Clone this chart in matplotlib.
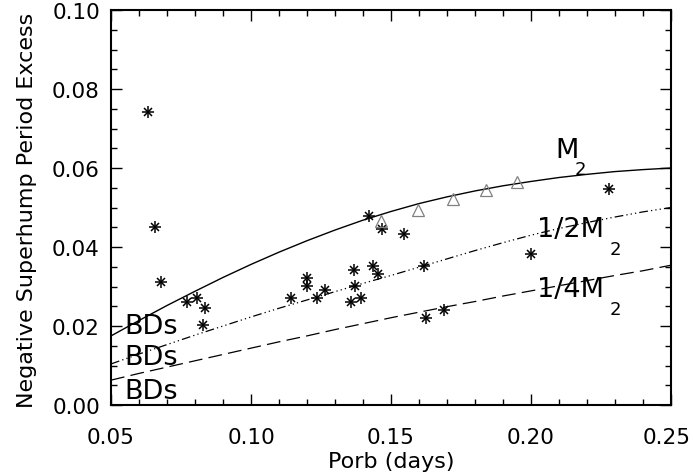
#!/usr/bin/env python3

import matplotlib
matplotlib.use("Agg")
import matplotlib.pyplot as plt
from matplotlib.ticker import MultipleLocator, FormatStrFormatter, NullFormatter
from matplotlib.transforms import offset_copy

# observed systems (asterisks)
star_porb = [0.0631, 0.0657, 0.0679, 0.0770, 0.0806, 0.0836, 0.0827, 0.1141,
             0.1199, 0.1199, 0.1234, 0.1264, 0.1357, 0.1368, 0.1371, 0.1393,
             0.1422, 0.1434, 0.1455, 0.1469, 0.1547, 0.1619, 0.1624, 0.1690,
             0.1999, 0.2279]
star_eps = [0.0742, 0.0451, 0.0311, 0.0261, 0.0272, 0.0246, 0.0202, 0.0272,
            0.0322, 0.0301, 0.0272, 0.0292, 0.0261, 0.0341, 0.0301, 0.0272,
            0.0478, 0.0353, 0.0331, 0.0446, 0.0434, 0.0351, 0.0221, 0.0241,
            0.0383, 0.0548]

# triangles
tri_porb = [0.1463, 0.1595, 0.1720, 0.1838, 0.1951]
tri_eps = [0.0467, 0.0494, 0.0521, 0.0544, 0.0564]

# model curves
curve_porb = [0.05, 0.06, 0.07, 0.08, 0.09, 0.10, 0.11, 0.12, 0.13, 0.14, 0.15,
              0.16, 0.17, 0.18, 0.19, 0.20, 0.21, 0.22, 0.23, 0.24, 0.25]
eps_m2 = [0.0175, 0.0214, 0.0252, 0.0288, 0.0323, 0.0356, 0.0387, 0.0416,
          0.0443, 0.0468, 0.0490, 0.0510, 0.0527, 0.0542, 0.0555, 0.0566,
          0.0576, 0.0584, 0.0591, 0.0596, 0.0600]
eps_half = [0.0104, 0.0129, 0.0153, 0.0177, 0.0200, 0.0223, 0.0245, 0.0266,
            0.0287, 0.0308, 0.0328, 0.0349, 0.0370, 0.0391, 0.0411, 0.0430,
            0.0447, 0.0462, 0.0476, 0.0489, 0.0500]
eps_quarter = [0.0063, 0.0080, 0.0096, 0.0112, 0.0128, 0.0144, 0.0160, 0.0175,
               0.0191, 0.0206, 0.0221, 0.0235, 0.0249, 0.0262, 0.0276, 0.0289,
               0.0302, 0.0315, 0.0328, 0.0340, 0.0354]

xticks = [0.05, 0.10, 0.15, 0.20, 0.25]
xtick_labels = ['0.05', '0.10', '0.15', '0.20', '0.25']

plt.rcParams['font.family'] = 'DejaVu Sans'

fig = plt.figure(figsize=(6.93, 4.77), dpi=100)
ax = fig.add_axes([0.1602, 0.1488, 0.8081, 0.8281])

ax.plot(curve_porb, eps_m2, color='black', lw=1.0)
ax.plot(curve_porb, eps_half, color='black', lw=0.9,
        linestyle=(0, (7, 2.5, 1, 2.5, 1, 2.5, 1, 2.5)))
ax.plot(curve_porb, eps_quarter, color='black', lw=0.9,
        linestyle=(0, (11, 5)))

ax.plot(star_porb, star_eps, linestyle='none', marker='+', ms=8, mew=1.1,
        color='black')
ax.plot(star_porb, star_eps, linestyle='none', marker='x', ms=6, mew=1.1,
        color='black')
ax.plot(tri_porb, tri_eps, linestyle='none', marker='^', ms=8, mew=0.9,
        mfc='none', mec='#808080')

# labels on the curves
big = 19.5
ax.text(0.2127, 0.0646, 'M', fontsize=big, ha='center', va='center')
ax.text(0.2175, 0.0597, '2', fontsize=13, ha='center', va='center')
ax.text(0.2140, 0.0446, '1/2M', fontsize=big, ha='center', va='center')
ax.text(0.2300, 0.0395, '2', fontsize=13, ha='center', va='center')
ax.text(0.2140, 0.0294, '1/4M', fontsize=big, ha='center', va='center')
ax.text(0.2300, 0.0243, '2', fontsize=13, ha='center', va='center')
for yb in [0.0201, 0.0121, 0.0036]:
    ax.text(0.0548, yb, 'BDs', fontsize=big, ha='left', va='center')

ax.set_xlim(0.05, 0.25)
ax.set_ylim(0.0, 0.10)
ax.xaxis.set_major_locator(MultipleLocator(0.05))
ax.xaxis.set_minor_locator(MultipleLocator(0.01))
ax.yaxis.set_major_locator(MultipleLocator(0.02))
ax.yaxis.set_minor_locator(MultipleLocator(0.005))
ax.xaxis.set_major_formatter(NullFormatter())
ax.yaxis.set_major_formatter(FormatStrFormatter('%.2f'))
ax.tick_params(which='both', direction='in', top=True, right=True,
               labelsize=15.5, width=1.0)
ax.tick_params(which='major', length=8)
ax.tick_params(which='minor', length=4)
ax.tick_params(axis='y', pad=8)
for s in ax.spines.values():
    s.set_linewidth(1.5)

# x tick labels drawn by hand so the last one stays inside the figure
xt = ax.get_xaxis_transform()
for v, lab in zip(xticks, xtick_labels):
    shift = -4 if v == xticks[-1] else 0
    tr = offset_copy(xt, fig=fig, x=shift, y=-32, units='dots')
    ax.text(v, 0, lab, fontsize=15.5, ha='center', va='center',
            transform=tr, clip_on=False)

fig.text(391 / 693, 1 - 462 / 477, 'Porb (days)', fontsize=16,
         ha='center', va='center')
fig.text(27 / 693, 1 - 210 / 477, 'Negative Superhump Period Excess',
         fontsize=16, rotation=90, ha='center', va='center')

fig.savefig('out.png', dpi=100)
